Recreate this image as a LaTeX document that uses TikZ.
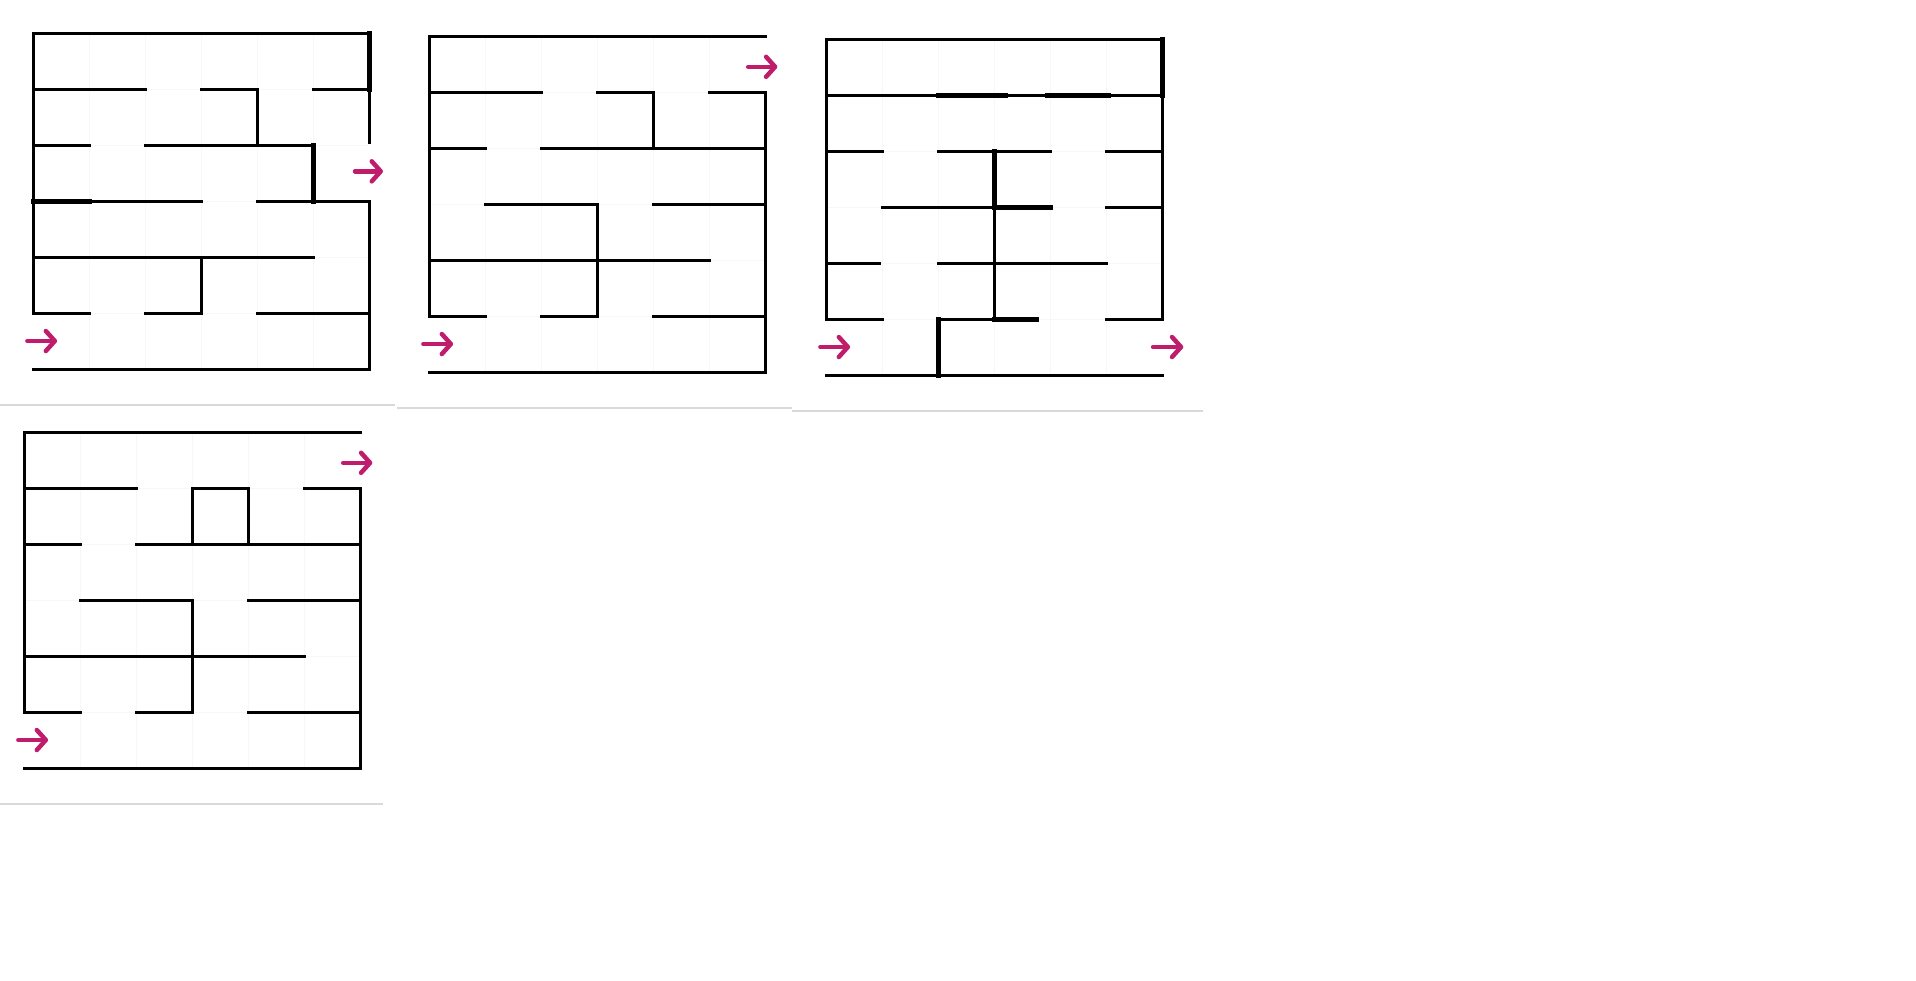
\documentclass[tikz,border=0pt]{standalone}
\usetikzlibrary{arrows.meta}
\definecolor{arrowpink}{RGB}{192,28,108}
\begin{document}
\begin{tikzpicture}[x=1pt, y=-1pt,
   mazebox/.style={x=56pt, y=-56pt},
   wall/.style={draw=black, line width=3pt, line cap=rect},
   thickwall/.style={draw=black, line width=5pt, line cap=rect},
   cellgrid/.style={draw=black!3, line width=1pt},
   panelline/.style={draw=black!15, line width=1.5pt},
   wayarrow/.style={draw=arrowpink, line width=4.5pt, line cap=round, -{Straight Barb[length=9pt,width=20pt,round]}}
  ]
  \useasboundingbox[fill=white] (0,0) rectangle (1916,980);
  % panel borders
  \draw[panelline] (0,405) -- (395,405);
  \draw[panelline] (397,408) -- (792,408);
  \draw[panelline] (792,411) -- (1203,411);
  \draw[panelline] (0,804) -- (383,804);
  % maze 1
  \begin{scope}[shift={(33,33)}, mazebox]
    \foreach \k in {1,...,5} \draw[cellgrid] (\k,0) -- (\k,6) (0,\k) -- (6,\k);
    \draw[wall] (0,5) -- (0,0) -- (6,0);
    \draw[thickwall] (6,0) -- (6,1);
    \draw[wall] (6,1) -- (6,1.95);
    \draw[wall] (0,6) -- (6,6) -- (6,3);
    \draw[wall] (0,1) -- (2,1) (3,1) -- (4,1) -- (4,2) (5,1) -- (6,1);
    \draw[wall] (0,2) -- (1,2) (2,2) -- (5,2);
    \draw[thickwall] (5,2) -- (5,3);
    \draw[wall] (1,3) -- (3,3) (4,3) -- (6,3);
    \draw[thickwall] (0,3) -- (1,3);
    \draw[wall] (0,4) -- (5,4) (3,4) -- (3,5);
    \draw[wall] (0,5) -- (1,5) (2,5) -- (3,5) (4,5) -- (6,5);
    \draw[wayarrow] (-0.1,5.5) -- (0.43,5.5);
    \draw[wayarrow] (5.75,2.47) -- (6.25,2.47);
  \end{scope}
  % maze 2
  \begin{scope}[shift={(429,36)}, mazebox]
    \foreach \k in {1,...,5} \draw[cellgrid] (\k,0) -- (\k,6) (0,\k) -- (6,\k);
    \draw[wall] (6,0) -- (0,0) -- (0,5);
    \draw[wall] (0,6) -- (6,6) -- (6,1);
    \draw[wall] (0,1) -- (2,1) (3,1) -- (4,1) -- (4,2) (5,1) -- (6,1);
    \draw[wall] (0,2) -- (1,2) (2,2) -- (6,2);
    \draw[wall] (1,3) -- (3,3) -- (3,5) (4,3) -- (6,3);
    \draw[wall] (0,4) -- (5,4);
    \draw[wall] (0,5) -- (1,5) (2,5) -- (3,5) (4,5) -- (6,5);
    \draw[wayarrow] (-0.1,5.5) -- (0.43,5.5);
    \draw[wayarrow] (5.7,0.55) -- (6.22,0.55);
  \end{scope}
  % maze 3
  \begin{scope}[shift={(826,39)}, mazebox]
    \foreach \k in {1,...,5} \draw[cellgrid] (\k,0) -- (\k,6) (0,\k) -- (6,\k);
    \draw[wall] (0,5) -- (0,0) -- (6,0);
    \draw[thickwall] (6,0) -- (6,1);
    \draw[wall] (6,1) -- (6,5);
    \draw[wall] (0,6) -- (6,6);
    \draw[wall] (0,1) -- (6,1);
    \draw[thickwall] (2,1) -- (3.2,1) (3.95,1) -- (5.05,1);
    \draw[wall] (0,2) -- (1,2) (2,2) -- (4,2) (5,2) -- (6,2);
    \draw[thickwall] (3,2) -- (3,3) -- (4,3);
    \draw[wall] (3,3) -- (3,5);
    \draw[wall] (1,3) -- (3,3) (5,3) -- (6,3);
    \draw[wall] (0,4) -- (0.95,4) (2,4) -- (5,4);
    \draw[wall] (0,5) -- (1,5) (2,5) -- (3,5) (5,5) -- (6,5);
    \draw[thickwall] (3,5) -- (3.75,5) (2,5) -- (2,6);
    \draw[wayarrow] (-0.1,5.5) -- (0.43,5.5);
    \draw[wayarrow] (5.84,5.5) -- (6.38,5.5);
  \end{scope}
  % maze 4
  \begin{scope}[shift={(24,432)}, mazebox]
    \foreach \k in {1,...,5} \draw[cellgrid] (\k,0) -- (\k,6) (0,\k) -- (6,\k);
    \draw[wall] (6,0) -- (0,0) -- (0,5);
    \draw[wall] (0,6) -- (6,6) -- (6,1);
    \draw[wall] (0,1) -- (2,1) (3,2) -- (3,1) -- (4,1) -- (4,2) (5,1) -- (6,1);
    \draw[wall] (0,2) -- (1,2) (2,2) -- (6,2);
    \draw[wall] (1,3) -- (3,3) -- (3,5) (4,3) -- (6,3);
    \draw[wall] (0,4) -- (5,4);
    \draw[wall] (0,5) -- (1,5) (2,5) -- (3,5) (4,5) -- (6,5);
    \draw[wayarrow] (-0.1,5.5) -- (0.43,5.5);
    \draw[wayarrow] (5.7,0.55) -- (6.22,0.55);
  \end{scope}
\end{tikzpicture}
\end{document}
